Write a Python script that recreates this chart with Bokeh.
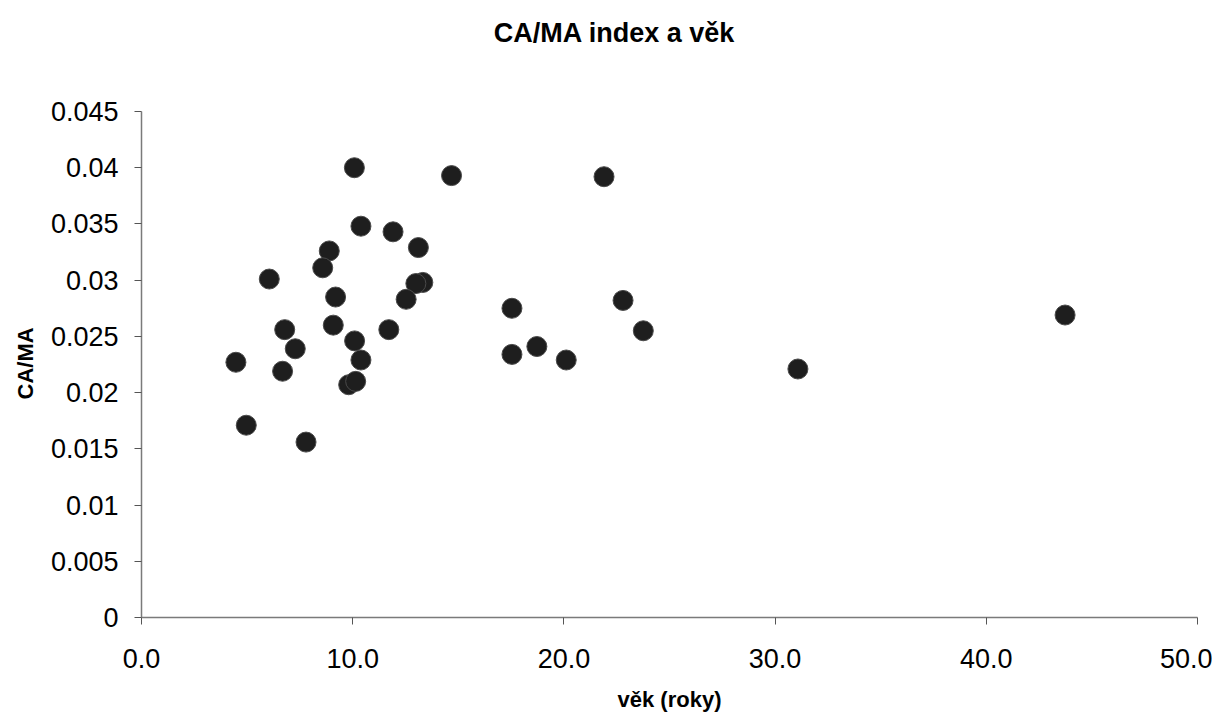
from bokeh.plotting import figure
from bokeh.models import FixedTicker, Range1d, Label, Title
from bokeh.embed import file_html
from bokeh.resources import INLINE

# Data (age in years, CA/MA index)
age = [10.08, 14.68, 10.39, 11.91, 13.11, 8.89, 8.58, 6.05, 13.32, 12.99,
       9.19, 12.53, 6.78, 11.71, 9.08, 10.09, 7.28, 4.47, 10.39, 6.68,
       9.81, 10.14, 4.96, 7.79, 21.90, 17.54, 22.80, 23.76, 17.54, 18.72,
       20.11, 31.08, 43.73]
ca_ma = [0.0400, 0.0393, 0.0348, 0.0343, 0.0329, 0.0326, 0.0311, 0.0301, 0.0298, 0.0297,
         0.0285, 0.0283, 0.0256, 0.0256, 0.0260, 0.0246, 0.0239, 0.0227, 0.0229, 0.0219,
         0.0207, 0.0210, 0.0171, 0.0156, 0.0392, 0.0275, 0.0282, 0.0255, 0.0234, 0.0241,
         0.0229, 0.0221, 0.0269]

x_ticks = [0, 10, 20, 30, 40, 50]
x_tick_labels = ["0.0", "10.0", "20.0", "30.0", "40.0", "50.0"]
y_ticks = [0, 0.005, 0.01, 0.015, 0.02, 0.025, 0.03, 0.035, 0.04, 0.045]
y_tick_labels = ["0", "0.005", "0.01", "0.015", "0.02", "0.025", "0.03", "0.035", "0.04", "0.045"]

title_text = "CA/MA index a věk"
x_title = "věk (roky)"
y_title = "CA/MA"

FONT = "Liberation Sans"

# Layout (pixels): the frame reaches to the top so the title sits inside it,
# while the y axis itself only spans 0 .. 0.045 as in the reference.
W, H = 1212, 714
left, right, top, bottom = 141, 15, 10, 97
frame_w = W - left - right
frame_h = H - top - bottom
axis_px = 506                       # pixel height of 0 .. 0.045 in the reference
y_max = y_ticks[-1]
y_end = y_max * frame_h / axis_px
x_end = x_ticks[-1]

p = figure(width=W, height=H, output_backend="svg", toolbar_location=None,
           title=None,
           x_range=Range1d(0, x_end), y_range=Range1d(0, y_end),
           min_border_left=left, min_border_right=right, min_border_top=top,
           min_border_bottom=bottom)

p.outline_line_color = None
p.xgrid.visible = False
p.ygrid.visible = False

p.scatter(age, ca_ma, size=20, marker="circle", fill_color="#1e1e1e",
          line_color="#4a4a4a", line_width=1)

# Chart title, centred on the page, 79 px above the top of the y axis
title_cx = (1228 / 2 - left) / frame_w * x_end
title_cy = y_max + 79 / axis_px * y_max
p.add_layout(Label(x=title_cx, y=title_cy, text=title_text,
                   text_font=FONT, text_font_size="27px", text_font_style="bold",
                   text_color="black", text_align="center", text_baseline="middle"))

for ax in (p.xaxis[0], p.yaxis[0]):
    ax.axis_line_color = "#7a7a7a"
    ax.axis_line_width = 1.5
    ax.major_tick_line_color = "#555555"
    ax.major_tick_out = 7
    ax.major_tick_in = 0
    ax.minor_tick_out = 0
    ax.minor_tick_in = 0
    ax.major_label_text_font = FONT
    ax.major_label_text_font_size = "27px"
    ax.major_label_text_color = "black"
    ax.axis_label_text_font = FONT
    ax.axis_label_text_font_style = "bold"
    ax.axis_label_text_color = "black"

p.xaxis.ticker = FixedTicker(ticks=x_ticks)
p.xaxis.major_label_overrides = {t: l for t, l in zip(x_ticks, x_tick_labels)}
p.yaxis.ticker = FixedTicker(ticks=y_ticks)
p.yaxis.major_label_overrides = {t: l for t, l in zip(y_ticks, y_tick_labels)}
p.yaxis.bounds = (0, y_max)

p.xaxis.axis_label = x_title
p.xaxis.axis_label_text_font_size = "22px"
p.xaxis.major_label_standoff = 24
p.xaxis.axis_label_standoff = 16

p.yaxis.major_label_standoff = 16

# y-axis title as a side title, centred on the 0 .. 0.045 axis span
ytitle = Title(text=y_title, align="left", offset=218, vertical_align="top",
               standoff=16, text_font=FONT, text_font_size="22px",
               text_font_style="bold", text_color="black")
p.add_layout(ytitle, "left")

open("out.html", "w").write(file_html(p, INLINE))
